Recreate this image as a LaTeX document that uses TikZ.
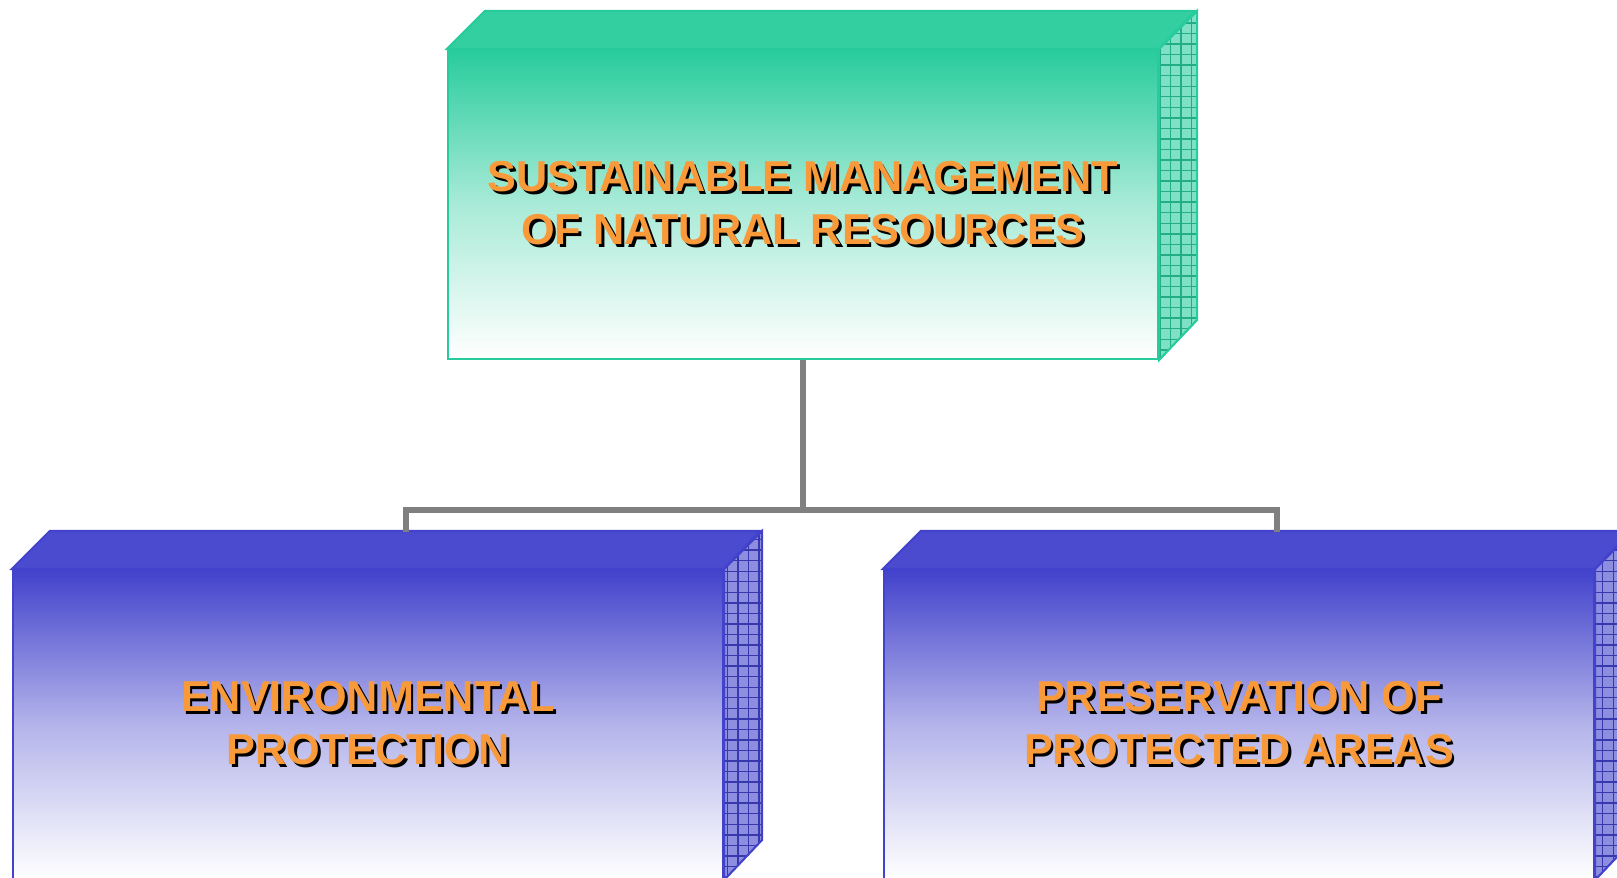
\documentclass[tikz,border=0pt]{standalone}
\usepackage{fontspec}
\setmainfont{Liberation Sans}
\usetikzlibrary{patterns}

\definecolor{grn}{RGB}{40,204,156}
\definecolor{blu}{RGB}{66,66,204}
\definecolor{org}{RGB}{248,154,58}
\definecolor{lnk}{RGB}{128,128,128}

\newcommand{\shtxt}[1]{\rlap{\kern0.8pt\raisebox{-0.8pt}{\textcolor{black}{#1}}}\textcolor{org}{#1}}

\tikzset{
  box/.style={draw=#1, line width=0.6pt, minimum width=7.1cm, minimum height=3.09cm,
    inner sep=0pt, top color=#1, bottom color=white, middle color=#1!40!white,
    align=center, font=\bfseries\fontsize{12.3}{15.2}\selectfont},
  topface/.style={draw=#1, line width=0.6pt, fill=#1!95!white},
  sideface/.style={draw=#1, line width=0.6pt, preaction={fill=#1!60!white},
    pattern=grid, pattern color=#1!85!black},
  link/.style={lnk, line width=1.7pt}
}

\begin{document}
\begin{tikzpicture}
\clip (0,0) rectangle (16.17,-8.77);

\node[box=grn] (top) at (8.03,-2.045) {\shtxt{SUSTAINABLE MANAGEMENT}\\\shtxt{OF NATURAL RESOURCES}};
\draw[topface=grn] (top.north west) -- ++(0.38,0.38) -- ++(7.1,0) -- (top.north east) -- cycle;
\draw[sideface=grn] (top.north east) -- ++(0.38,0.38) -- ++(0,-3.09) -- (top.south east) -- cycle;

\node[box=blu] (env) at (3.68,-7.245) {\shtxt{ENVIRONMENTAL}\\\shtxt{PROTECTION}};
\draw[topface=blu] (env.north west) -- ++(0.38,0.38) -- ++(7.1,0) -- (env.north east) -- cycle;
\draw[sideface=blu] (env.north east) -- ++(0.38,0.38) -- ++(0,-3.09) -- (env.south east) -- cycle;

\node[box=blu] (pres) at (12.39,-7.245) {\shtxt{PRESERVATION OF}\\\shtxt{PROTECTED AREAS}};
\draw[topface=blu] (pres.north west) -- ++(0.38,0.38) -- ++(7.1,0) -- (pres.north east) -- cycle;
\draw[sideface=blu] (pres.north east) -- ++(0.38,0.38) -- ++(0,-3.09) -- (pres.south east) -- cycle;

% connectors
\coordinate (hub) at (8.03,-5.10);
\coordinate (envtop) at (4.06,-5.32);
\coordinate (prestop) at (12.77,-5.32);
\draw[link] (top.south) -- (hub);
\draw[link] (envtop) |- (hub) -| (prestop);

\end{tikzpicture}
\end{document}
